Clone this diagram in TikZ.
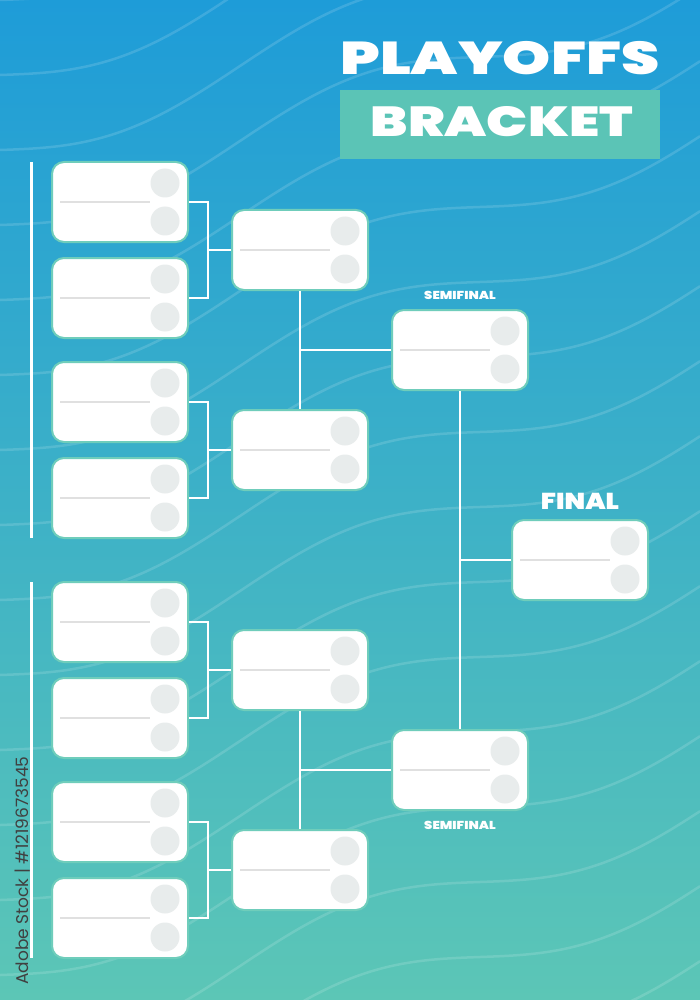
\documentclass[tikz,border=0pt]{standalone}
\usepackage{fontspec}
\setmainfont{Poppins}
\IfFontExistsTF{Poppins Black}
  {\newfontfamily\heavyfont{Poppins Black}}
  {\IfFontExistsTF{Poppins ExtraBold}
    {\newfontfamily\heavyfont{Poppins ExtraBold}}
    {\newfontfamily\heavyfont{Poppins}[UprightFont=*-Bold]}}

\definecolor{skytop}{HTML}{1E9CD8}
\definecolor{seabottom}{HTML}{5CC6B6}
\definecolor{rim}{HTML}{6FCDBB}
\definecolor{slot}{HTML}{E8ECEC}
\definecolor{rule}{HTML}{E0E0E0}
\definecolor{banner}{HTML}{5BC4B6}

\tikzset{
  matchbox/.style={draw=rim, line width=2pt, fill=white, rounded corners=12pt,
    minimum width=136pt, minimum height=80pt, inner sep=0pt,
    path picture={
      \draw[rule, line width=1.5pt] ([xshift=8pt]path picture bounding box.west)
        -- ([xshift=-38pt]path picture bounding box.east);
      \fill[slot] ([xshift=-23pt,yshift=-21pt]path picture bounding box.north east) circle[radius=14.5pt];
      \fill[slot] ([xshift=-23pt,yshift=21pt]path picture bounding box.south east) circle[radius=14.5pt];
    }},
  link/.style={draw=white, line width=2pt},
  wave/.style={draw=white, opacity=0.14, line width=2.5pt},
  roundlabel/.style={text=white, inner sep=0pt, anchor=base},
}

\begin{document}
\begin{tikzpicture}[x=1pt, y=-1pt]
  \useasboundingbox (0,0) rectangle (700,1000);
  \shade[top color=skytop, bottom color=seabottom] (0,0) rectangle (700,1000);

  % background waves
  \begin{scope}
    \clip (0,0) rectangle (700,1000);
    \foreach \off in {-300,-225,...,1300}
      \draw[wave] plot[domain=0:700, samples=50, smooth] (\x, {\off - 0.35*\x + 24*sin(0.75*\x)});
  \end{scope}

  % title
  \node[text=white, font=\heavyfont\fontsize{46}{46}\selectfont, inner sep=0pt, anchor=base,
    xscale=1.33, transform shape] (title) at (500,75) {PLAYOFFS};
  \fill[banner] (340,90) rectangle (660,159);
  \node[text=white, font=\heavyfont\fontsize{42}{42}\selectfont, inner sep=0pt, anchor=base,
    xscale=1.3, transform shape] (subtitle) at (502,137) {BRACKET};

  % first round
  \node[matchbox] (q1) at (120,202) {};
  \node[matchbox] (q2) at (120,298) {};
  \node[matchbox] (q3) at (120,402) {};
  \node[matchbox] (q4) at (120,498) {};
  \node[matchbox] (q5) at (120,622) {};
  \node[matchbox] (q6) at (120,718) {};
  \node[matchbox] (q7) at (120,822) {};
  \node[matchbox] (q8) at (120,918) {};

  % second round
  \node[matchbox] (r1) at (300,250) {};
  \node[matchbox] (r2) at (300,450) {};
  \node[matchbox] (r3) at (300,670) {};
  \node[matchbox] (r4) at (300,870) {};

  % semifinals and final
  \node[matchbox] (s1) at (460,350) {};
  \node[matchbox] (s2) at (460,770) {};
  \node[matchbox] (fin) at (580,560) {};

  \node[roundlabel, font=\heavyfont\fontsize{11.5}{11.5}\selectfont, xscale=1.15, transform shape] (s1lab) at (460,299) {SEMIFINAL};
  \node[roundlabel, font=\heavyfont\fontsize{11.5}{11.5}\selectfont, xscale=1.15, transform shape] (s2lab) at (460,829) {SEMIFINAL};
  \node[roundlabel, font=\heavyfont\fontsize{23}{23}\selectfont, xscale=1.15, transform shape] (finlab) at (580,509) {FINAL};

  % side rules
  \draw[white, line width=3pt] (31.5,162) -- (31.5,538);
  \draw[white, line width=3pt] (31.5,582) -- (31.5,958);

  % bracket joints
  \coordinate (j1) at (208,250);
  \coordinate (j2) at (208,450);
  \coordinate (j3) at (208,670);
  \coordinate (j4) at (208,870);
  \coordinate (k1) at (300,350);
  \coordinate (k2) at (300,770);
  \coordinate (m) at (460,560);

  \draw[link] (q1.east) -| (j1) |- (q2.east);
  \draw[link] (j1) -- (r1.west);
  \draw[link] (q3.east) -| (j2) |- (q4.east);
  \draw[link] (j2) -- (r2.west);
  \draw[link] (q5.east) -| (j3) |- (q6.east);
  \draw[link] (j3) -- (r3.west);
  \draw[link] (q7.east) -| (j4) |- (q8.east);
  \draw[link] (j4) -- (r4.west);

  \draw[link] (r1.south) -- (r2.north);
  \draw[link] (k1) -- (s1.west);
  \draw[link] (r3.south) -- (r4.north);
  \draw[link] (k2) -- (s2.west);

  \draw[link] (s1.south) -- (s2.north);
  \draw[link] (m) -- (fin.west);

  % stock number
  \node[rotate=90, anchor=base west, inner sep=0pt, text=black!75, font=\fontsize{17}{17}\selectfont] (stock) at (28,985) {Adobe Stock | \#1219673545};
\end{tikzpicture}
\end{document}
